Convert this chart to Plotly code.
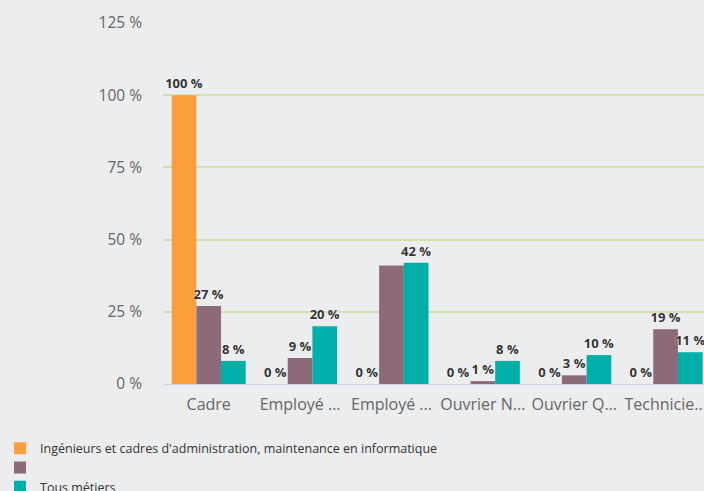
import plotly.graph_objects as go

categories = ["Cadre", "Employé ...", "Employé ...", "Ouvrier N...", "Ouvrier Q...", "Technicie..."]
series_names = ["Ingénieurs et cadres d'administration, maintenance en informatique", "", "Tous métiers"]
values_ing = [100, 0, 0, 0, 0, 0]
values_mid = [27, 9, 41, 1, 3, 19]
values_all = [8, 20, 42, 8, 10, 11]
hidden_labels_mid = [False, False, True, False, False, False]
colors = ["#fb9e3c", "#8c6a79", "#00afa8"]
y_ticks = [0, 25, 50, 75, 100, 125]

x_idx = list(range(len(categories)))

def labels(vals, hidden=None):
    out = []
    for i, v in enumerate(vals):
        if hidden and hidden[i]:
            out.append("")
        else:
            out.append(f"{v} %")
    return out

fig = go.Figure()
for name, vals, col, hid in [
    (series_names[0], values_ing, colors[0], None),
    (series_names[1], values_mid, colors[1], hidden_labels_mid),
    (series_names[2], values_all, colors[2], None),
]:
    fig.add_trace(go.Bar(
        x=x_idx, y=vals, name=name if name else " ",
        marker=dict(color=col, line=dict(width=0)),
        text=labels(vals, hid), textposition="outside", cliponaxis=False,
        constraintext="none",
        textfont=dict(family="Open Sans", size=13, color="#333333", weight="bold",
                      shadow="0px 0px 2px #ffffff"),
    ))

fig.update_layout(
    width=704, height=491,
    paper_bgcolor="#ecedef", plot_bgcolor="#ecedef",
    margin=dict(l=163, r=0, t=23, b=107, autoexpand=False),
    barmode="group", bargap=0.19, bargroupgap=0,
    font=dict(family="Open Sans", color="#666666"),
    showlegend=True,
    legend=dict(orientation="v", xref="container", yref="container",
                x=0.0, y=0.117, xanchor="left", yanchor="top",
                font=dict(size=12.5, color="#333333"), tracegroupgap=0,
                bgcolor="rgba(0,0,0,0)", itemclick=False),
)
fig.update_xaxes(
    tickvals=x_idx, ticktext=categories, range=[-0.5, 5.42],
    showgrid=False, showline=True, linecolor="#ccd6eb", linewidth=1,
    ticks="", tickfont=dict(size=16, color="#666666"), ticklabelstandoff=6,
    ticklabeloverflow="allow", tickangle=0, zeroline=False,
)
fig.update_yaxes(
    range=[0, 125], tickvals=y_ticks, ticktext=[f"{t} %" for t in y_ticks],
    showgrid=True, gridcolor="#d3e0b0", gridwidth=1.5, zeroline=False,
    tickfont=dict(size=15.5, color="#666666"), ticklabelstandoff=20, showline=False,
)

fig.write_html("out.html", config={"displayModeBar": False},
               post_script="document.body.style.margin='0px';document.body.style.background='#ecedef';")
